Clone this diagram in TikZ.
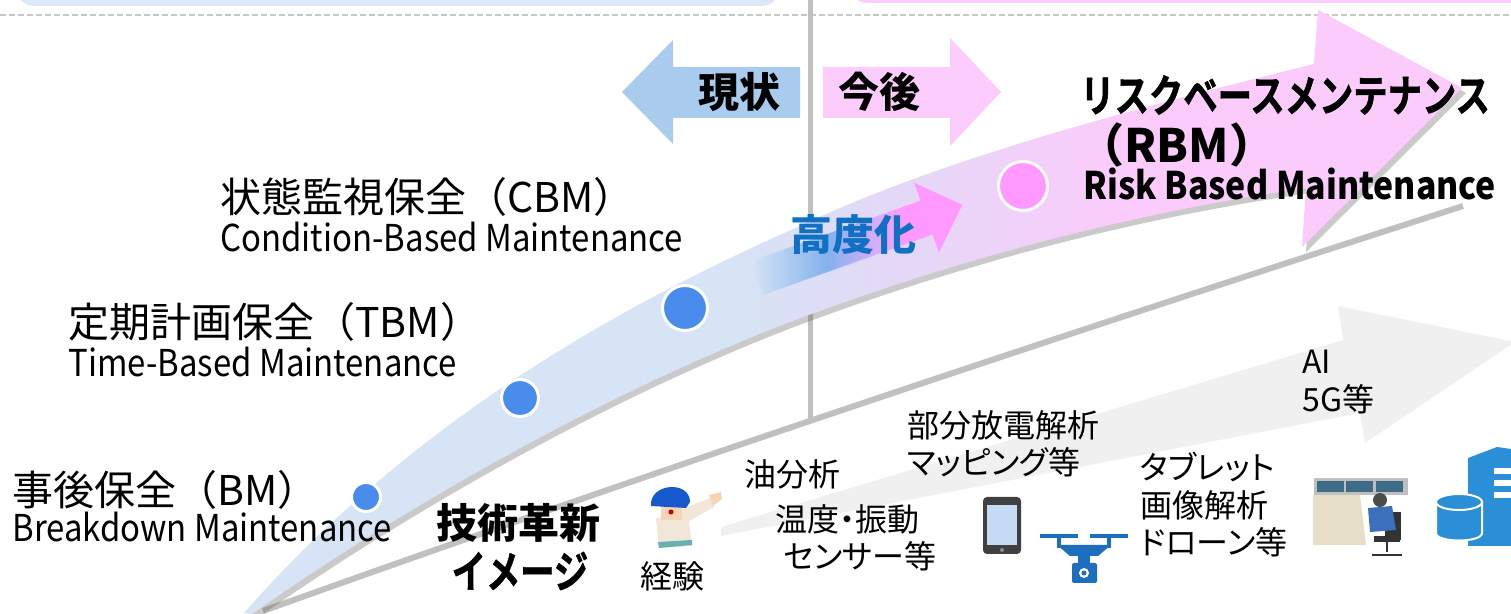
\documentclass[tikz,border=0pt]{standalone}
\usepackage{fontspec}
\setmainfont{Noto Sans CJK JP}
\newfontfamily\tagfont{Noto Sans CJK JP}[CharacterWidth=AlternateProportional]
\newfontfamily\enfont{Noto Sans CJK JP}[FakeStretch=0.89]
\newfontfamily\heavyfont{Noto Sans CJK JP Bold}[FakeStretch=0.78,FakeBold=1.2]
\usetikzlibrary{shadows,positioning}

\definecolor{bandblue}{HTML}{D6E4F5}
\definecolor{bandlilac}{HTML}{E4D8F6}
\definecolor{bandpink}{HTML}{FBCBFB}
\definecolor{nowblue}{HTML}{A9CBEE}
\definecolor{nextpink}{HTML}{FCCDFC}
\definecolor{dotblue}{HTML}{4A8CEB}
\definecolor{dotpink}{HTML}{FF99FF}
\definecolor{railgray}{HTML}{C0C0C0}
\definecolor{techgray}{HTML}{F0F0F0}
\definecolor{liftblue}{HTML}{1070C4}
\definecolor{iconblue}{HTML}{2B8FD8}
\definecolor{droneblue}{HTML}{1E6EC0}
\definecolor{skin}{HTML}{F6D5B5}
\definecolor{shirt}{HTML}{F1E6D8}
\definecolor{console}{HTML}{E6DEC6}
\definecolor{screenteal}{HTML}{3D6B88}

\pgfdeclarehorizontalshading{bandgrad}{100bp}{color(0bp)=(bandblue); color(45bp)=(bandblue); color(52bp)=(bandlilac); color(61bp)=(bandpink); color(100bp)=(bandpink)}
\pgfdeclarehorizontalshading{liftgrad}{100bp}{color(0bp)=(bandblue); color(25bp)=(bandblue); color(43bp)=(nowblue!60!dotblue); color(55bp)=(dotpink!60!nowblue); color(61bp)=(dotpink); color(100bp)=(dotpink)}

\begin{document}
\begin{tikzpicture}[x=0.5pt,y=-0.5pt]
  \tikzset{
    stage dot/.style={circle,draw=white,line width=1.5pt,inner sep=0pt},
    titlejp/.style={font=\fontsize{20.5}{24}\selectfont,inner sep=0pt,anchor=west},
    titleen/.style={font=\enfont\fontsize{18.5}{22}\selectfont,inner sep=0pt,anchor=base west},
    tag/.style={font=\tagfont\fontsize{16}{19}\selectfont,inner sep=0pt,anchor=west},
    heavy/.style={font=\heavyfont\fontsize{22}{26}\selectfont,inner sep=0pt},
    strong/.style={font=\bfseries\fontsize{20.5}{24}\selectfont,inner sep=0pt},
    bandarrow/.style={shade,shading=bandgrad,
      drop shadow={shadow xshift=2pt,shadow yshift=-2.5pt,fill=black!60,opacity=.35}},
  }
  \useasboundingbox (0,0) rectangle (1511,614);

  % header boxes and guide lines
  \fill[bandblue!85!white, rounded corners=10] (15,-40) rectangle (781,6);
  \fill[nextpink, rounded corners=10] (848,-40) rectangle (1540,3);
  \draw[black!22, line width=1pt, dash pattern=on 3pt off 1.5pt] (0,15) -- (1511,15);
  \coordinate (div top) at (810,-5);
  \coordinate (div foot) at (810,419);
  \draw[railgray, line width=2.5pt] (div top) -- (div foot);

  % technology wedge
  \fill[techgray] (721,527) -- (1343,340) -- (1338,306) -- (1515,342)
    -- (1365,443) -- (1360,413) -- (721,536) -- cycle;
  \coordinate (rail start) at (263,611);
  \coordinate (rail end) at (1463,206);
  \draw[railgray, line width=3pt] (rail start) .. controls (600,490) and (1000,355) .. (rail end);

  % main curved arrow
  \coordinate (band tail) at (244,613);
  \coordinate (band tip) at (1462,88);
  \path[bandarrow] (band tail) .. controls (370,470) and (540,340) .. (800,226)
    .. controls (950,155) and (1150,105) .. (1314,64) -- (1318,10) -- (band tip)
    -- (1302,247) -- (1306,188) .. controls (1120,215) and (950,262) .. (790,322)
    .. controls (600,395) and (400,510) .. (252,614) -- cycle;

  % small arrow inside the band
  \begin{scope}[shift={(757,278)}, rotate=19.6]
    \path[shade, shading=liftgrad] (0,-18) -- (180,-18) -- (180,-37) -- (218,0)
      -- (180,37) -- (180,18) -- (0,18) -- cycle;
  \end{scope}
  \node[strong, text=liftblue, font=\bfseries\fontsize{21}{24}\selectfont] (lift) at (853,235) {高度化};

  % stages
  \node[stage dot, fill=dotblue, minimum size=14.5pt] (bm dot) at (366,497) {};
  \node[stage dot, fill=dotblue, minimum size=18.5pt] (tbm dot) at (520,398) {};
  \node[stage dot, fill=dotblue, minimum size=22.5pt] (cbm dot) at (685,308) {};
  \node[stage dot, fill=dotpink, minimum size=24.5pt] (rbm dot) at (1023,186) {};

  % now / next
  \fill[nowblue] (622,92) -- (673,40) -- (673,67) -- (800,67) -- (800,118)
    -- (673,118) -- (673,144) -- cycle;
  \fill[nextpink] (823,67) -- (950,67) -- (950,38) -- (1001,92) -- (950,146)
    -- (950,118) -- (823,118) -- cycle;
  \node[strong] (now) at (739,92) {現状};
  \node[strong] (next) at (879,92) {今後};

  % stage labels
  \node[titlejp] (cbm) at (220,197) {状態監視保全（CBM）};
  \node[titleen] (cbm en) at (220,252) {Condition-Based Maintenance};
  \node[titlejp] (tbm) at (68,322) {定期計画保全（TBM）};
  \node[titleen] (tbm en) at (68,377) {Time-Based Maintenance};
  \node[titlejp] (bm) at (12,490) {事後保全（BM）};
  \node[titleen] (bm en) at (12,542) {Breakdown Maintenance};
  \node[heavy, anchor=west] (rbm) at (1080,95) {リスクベースメンテナンス};
  \node[strong, font=\bfseries\fontsize{23}{26}\selectfont, anchor=west] (rbm abbr) at (1078,145) {（RBM）};
  \node[font=\enfont\bfseries\fontsize{19}{22}\selectfont, inner sep=0pt, anchor=base west] (rbm en) at (1083,200) {Risk Based Maintenance};

  % technology labels
  \node[strong] (tech) at (518,523) {技術革新};
  \node[heavy] (tech2) at (520,571) {イメージ};
  \node[tag] (exp) at (640,576) {経験};
  \node[tag] (oil) at (744,474) {油分析};
  \node[tag] (temp) at (775,519) {温度・振動};
  \node[tag] (sensor) at (783,556) {センサー等};
  \node[tag] (pd) at (907,425) {部分放電解析};
  \node[tag] (mapping) at (907,462) {マッピング等};
  \node[tag] (tablet) at (1140,467) {タブレット};
  \node[tag] (imaging) at (1140,505) {画像解析};
  \node[tag] (drone) at (1140,542) {ドローン等};
  \node[tag] (ai) at (1302,362) {AI};
  \node[tag] (g5) at (1302,399) {5G等};

  % worker
  \fill[shirt] (656,518) -- (688,514) -- (692,546) -- (659,548) -- cycle;
  \fill[shirt] (678,511) -- (710,498) -- (714,507) -- (684,524) -- cycle;
  \fill[skin] (709,495) -- (721,492) -- (722,499) -- (713,506) -- cycle;
  \fill[skin] (661,500) rectangle (682,520);
  \fill[red!75!black] (671,512) circle (2.5);
  \fill[droneblue!80!blue] (651,506) .. controls (649,483) and (690,480) .. (690,502) -- (686,508) -- cycle;
  \fill[teal!60] (658,542) -- (692,540) -- (692,545) -- (659,548) -- cycle;

  % tablet
  \fill[black!75, rounded corners=2pt] (983,497) rectangle (1021,554);
  \fill[nowblue!70!white] (987,505) rectangle (1017,545);
  \fill[black!45] (1002,550) circle (2);

  % drone
  \begin{scope}[droneblue]
    \fill (1040,534) rectangle (1078,538);
    \fill (1090,534) rectangle (1128,538);
    \fill (1057,538) rectangle (1061,548);
    \fill (1107,538) rectangle (1111,548);
    \fill (1057,545) -- (1111,545) -- (1098,556) -- (1070,556) -- cycle;
    \fill (1078,556) rectangle (1090,563);
    \fill[rounded corners=1pt] (1072,563) rectangle (1097,583);
    \fill[white] (1084,573) circle (5);
    \fill (1084,573) circle (2.5);
  \end{scope}

  % operator at the control desk
  \fill[black!25] (1314,478) rectangle (1408,495);
  \foreach \sx in {1317,1346,1376}
    \fill[screenteal] (\sx,481) rectangle ++(27,11);
  \fill[console] (1313,495) -- (1360,495) -- (1366,545) -- (1313,545) -- cycle;
  \fill[black!80] (1385,512) rectangle (1401,540);
  \fill[dotblue!80!black] (1368,508) -- (1392,506) -- (1396,530) -- (1370,532) -- cycle;
  \fill[black!70] (1380,500) circle (7);
  \fill[black!80] (1374,536) rectangle (1400,542);
  \draw[black!80, line width=1pt] (1387,542) -- (1387,552) (1372,555) -- (1402,555);

  % database and server
  \fill[iconblue] (1468,458) -- (1497,447) -- (1511,449) -- (1511,546) -- (1468,546) -- cycle;
  \foreach \sy in {468,480,492}
    \fill[white] (1494,\sy) rectangle ++(17,6);
  \filldraw[fill=iconblue, draw=white, line width=1pt] (1436,502) -- (1436,533)
    .. controls (1436,543) and (1482,543) .. (1482,533) -- (1482,502) -- cycle;
  \filldraw[fill=iconblue, draw=white, line width=1pt] (1459,502) ellipse (23 and 8);
\end{tikzpicture}
\end{document}
